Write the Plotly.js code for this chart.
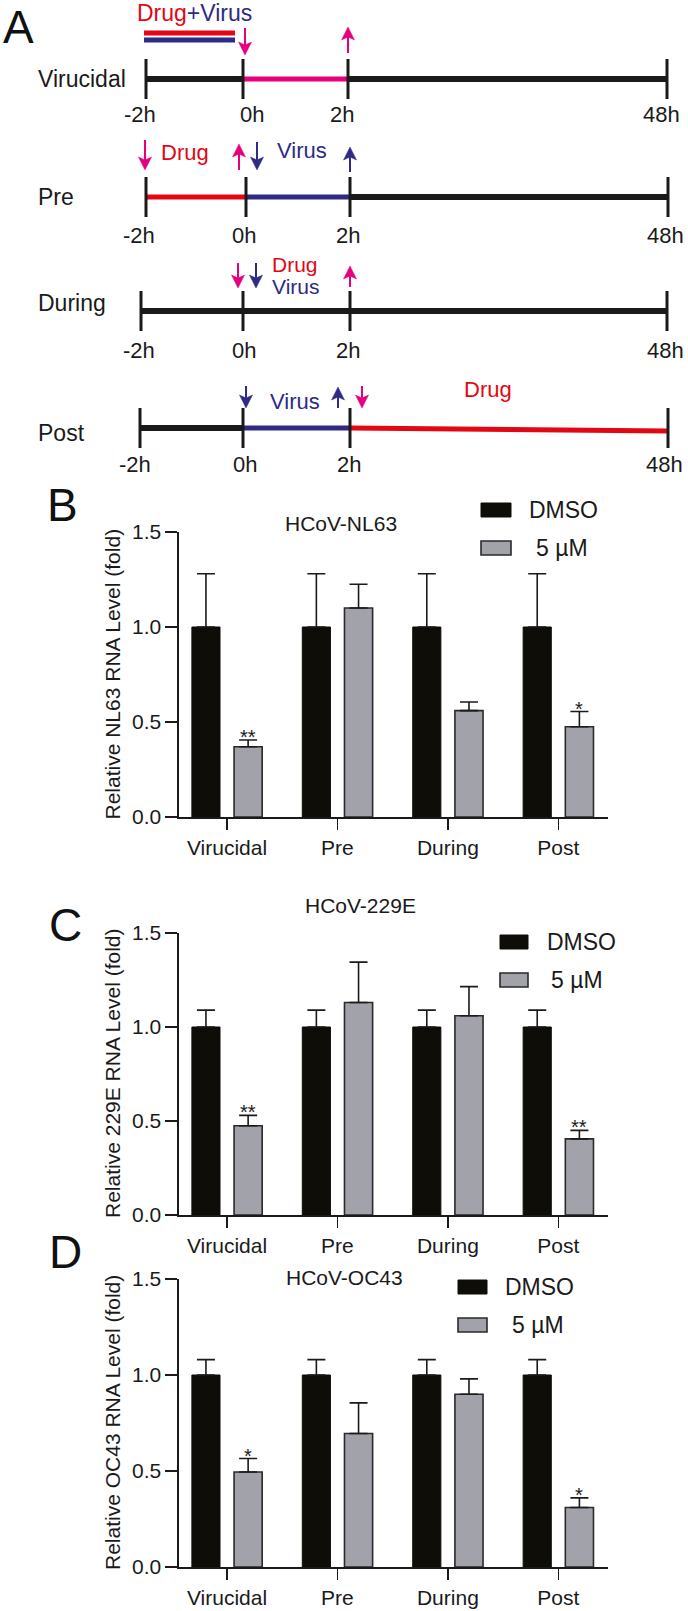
<!DOCTYPE html>
<html>
<head>
<meta charset="utf-8">
<script src="https://cdn.plot.ly/plotly-3.0.1.min.js"></script>
<style>
html,body{margin:0;padding:0;background:#fff;}
#chart{width:688px;height:1611px;}
</style>
</head>
<body>
<div id="chart"></div>
<script>
// ---------------- DATA ----------------
const categories = ['Virucidal', 'Pre', 'During', 'Post'];
const seriesNames = ['DMSO', '5 µM'];

// Panel B: HCoV-NL63
const nl63Dmso = [1.0, 1.0, 1.0, 1.0];
const nl63DmsoErr = [0.28, 0.28, 0.28, 0.28];
const nl63Drug = [0.37, 1.10, 0.56, 0.475];
const nl63DrugErr = [0.035, 0.125, 0.045, 0.08];
const nl63Sig = ['**', '', '', '*'];

// Panel C: HCoV-229E
const e229Dmso = [1.0, 1.0, 1.0, 1.0];
const e229DmsoErr = [0.09, 0.09, 0.09, 0.09];
const e229Drug = [0.475, 1.13, 1.06, 0.405];
const e229DrugErr = [0.055, 0.215, 0.155, 0.045];
const e229Sig = ['**', '', '', '**'];

// Panel D: HCoV-OC43
const oc43Dmso = [1.0, 1.0, 1.0, 1.0];
const oc43DmsoErr = [0.08, 0.08, 0.08, 0.08];
const oc43Drug = [0.495, 0.695, 0.90, 0.31];
const oc43DrugErr = [0.07, 0.16, 0.08, 0.05];
const oc43Sig = ['*', '', '', '*'];

const yTickVals = [0, 0.5, 1.0, 1.5];
const yTickText = ['0.0', '0.5', '1.0', '1.5'];
const panelTitles = ['HCoV-NL63', 'HCoV-229E', 'HCoV-OC43'];
const yTitles = ['Relative NL63 RNA Level (fold)', 'Relative 229E RNA Level (fold)', 'Relative OC43 RNA Level (fold)'];
const panelLetters = ['A', 'B', 'C', 'D'];

// Panel A: treatment timelines
const timeRows = ['Virucidal', 'Pre', 'During', 'Post'];
const timeLabels = ['-2h', '0h', '2h', '48h'];

// ---------------- STYLE / LAYOUT ----------------
const W = 688, H = 1611;
const FONT = '"Liberation Sans", Arial, Helvetica, sans-serif';
const RED = '#e30613', BLUE = '#2e2a86', PINK = '#e5007d', BLK = '#1a1a1a';
const BAR_BLACK = '#0f0d08', BAR_GRAY = '#a2a2aa';
const px = x => x / W;
const py = y => 1 - y / H;

const shapes = [];
const annotations = [];

function line(x0, y0, x1, y1, color, w) {
  shapes.push({type: 'line', xref: 'paper', yref: 'paper', x0: px(x0), y0: py(y0), x1: px(x1), y1: py(y1),
    line: {color: color, width: w}, layer: 'above'});
}
function rect(x0, y0, x1, y1, fill, lc, lw) {
  shapes.push({type: 'rect', xref: 'paper', yref: 'paper', x0: px(x0), y0: py(y0), x1: px(x1), y1: py(y1),
    fillcolor: fill, line: {color: lc, width: lw}, layer: 'above'});
}
function arrow(x, yTail, yTip, color) {
  const dir = yTip > yTail ? 1 : -1;
  const base = yTip - dir * 13;
  const notch = yTip - dir * 10;
  line(x, yTail, x, notch, color, 2);
  shapes.push({type: 'path', xref: 'paper', yref: 'paper',
    path: `M ${px(x)},${py(yTip)} L ${px(x - 6.5)},${py(base)} L ${px(x)},${py(notch)} L ${px(x + 6.5)},${py(base)} Z`,
    fillcolor: color, line: {color: color, width: 0.5}, layer: 'above'});
}
function text(x, y, t, size, color, xanchor, extra) {
  annotations.push(Object.assign({xref: 'paper', yref: 'paper', x: px(x), y: py(y), text: t, showarrow: false,
    xanchor: xanchor || 'center', yanchor: 'middle', borderpad: 0,
    font: {family: FONT, size: size, color: color || BLK}}, extra || {}));
}

// Timeline geometry (schematic pixel positions)
const rowGeom = [
  {y: 79, ticks: [146, 243, 348, 667], labY: 115, labX: [140, 252, 342, 661], nameY: 79,
   seg: [BLK, PINK, BLK], segW: [6, 5, 6]},
  {y: 197, ticks: [146, 246, 350, 668], labY: 235, labX: [139, 244, 348, 665], nameY: 197,
   seg: [RED, BLUE, BLK], segW: [5, 5, 6]},
  {y: 311, ticks: [141, 243, 350, 667], labY: 350, labX: [139, 244, 348, 665], nameY: 303,
   seg: [BLK, BLK, BLK], segW: [6, 6, 6]},
  {y: 428, ticks: [140, 243, 350, 668], labY: 465, labX: [135, 245, 349, 664], nameY: 433,
   seg: [BLK, BLUE, RED], segW: [6, 5, 5], lastDy: 3}
];
const arrowsGeom = [
  [[245, 28, 55, PINK], [348, 53, 27, PINK]],
  [[145, 140, 170, PINK], [239, 170, 144, PINK], [257, 142, 170, BLUE], [350, 172, 147, BLUE]],
  [[238, 263, 288, PINK], [256, 263, 288, BLUE], [350, 287, 266, PINK]],
  [[246, 386, 408, BLUE], [338, 408, 387, BLUE], [362, 386, 408, PINK]]
];

timeRows.forEach((name, r) => {
  const g = rowGeom[r];
  text(37, g.nameY, name, 23, BLK, 'left');
  for (let k = 0; k < 3; k++) {
    const yEnd = (k === 2 && g.lastDy) ? g.y + g.lastDy : g.y;
    line(g.ticks[k], g.y, g.ticks[k + 1], yEnd, g.seg[k], g.segW[k]);
  }
  g.ticks.forEach((tx, k) => {
    line(tx, g.y - 20, tx, g.y + 20, BLK, 3);
    text(g.labX[k], g.labY, timeLabels[k], 22, BLK);
  });
  arrowsGeom[r].forEach(a => arrow(a[0], a[1], a[2], a[3]));
});

// Row-specific treatment labels
rect(144, 30.5, 235, 35.5, RED, RED, 0);
rect(144, 37.5, 235, 42.5, BLUE, BLUE, 0);
text(194, 13, `<span style="color:${RED}">Drug</span><span style="color:${BLUE}">+Virus</span>`, 23, BLK);
text(185, 152, 'Drug', 22, RED);
text(302, 150, 'Virus', 22, BLUE);
text(295, 264, 'Drug', 21, RED);
text(295, 287, 'Virus', 21, BLUE);
text(295, 402, 'Virus', 22, BLUE);
text(488, 390, 'Drug', 22, RED);

// Panel letters
const letterPos = [[2, 27], [46, 505], [48, 925], [48, 1252]];
panelLetters.forEach((L, i) => text(letterPos[i][0], letterPos[i][1], L, 46, '#111', 'left'));

// ---------------- BAR CHARTS ----------------
const chartGeom = [
  {top: 532, bottom: 817, titleX: 341, titleY: 523, boxX: 481, boxW: 30, boxY: [510, 548], txtX: [528, 535]},
  {top: 933, bottom: 1215, titleX: 360, titleY: 905, boxX: 500, boxW: 28, boxY: [942, 980], txtX: [546, 550]},
  {top: 1279, bottom: 1567, titleX: 344, titleY: 1277, boxX: 458, boxW: 29, boxY: [1287, 1325], txtX: [504, 511]}
];
const chartData = [
  {dmso: nl63Dmso, dmsoErr: nl63DmsoErr, drug: nl63Drug, drugErr: nl63DrugErr, sig: nl63Sig},
  {dmso: e229Dmso, dmsoErr: e229DmsoErr, drug: e229Drug, drugErr: e229DrugErr, sig: e229Sig},
  {dmso: oc43Dmso, dmsoErr: oc43DmsoErr, drug: oc43Drug, drugErr: oc43DrugErr, sig: oc43Sig}
];
const X0 = 179, X1 = 608;
const traces = [];
const layout = {
  width: W, height: H,
  margin: {l: 0, r: 0, t: 0, b: 0, pad: 0},
  paper_bgcolor: '#ffffff', plot_bgcolor: 'rgba(0,0,0,0)',
  showlegend: false,
  barmode: 'group', bargap: 0.236, bargroupgap: 0.333,
  font: {family: FONT, color: BLK}
};

chartData.forEach((d, i) => {
  const s = i === 0 ? '' : String(i + 1);
  const g = chartGeom[i];
  const zeros = categories.map(() => 0);
  traces.push({
    type: 'bar', name: seriesNames[0], x: categories, y: d.dmso, xaxis: 'x' + s, yaxis: 'y' + s,
    marker: {color: BAR_BLACK, line: {color: BAR_BLACK, width: 1}},
    error_y: {type: 'data', symmetric: false, array: d.dmsoErr, arrayminus: zeros, color: BLK, thickness: 1.6, width: 9},
    hoverinfo: 'skip'
  });
  traces.push({
    type: 'bar', name: seriesNames[1], x: categories, y: d.drug, xaxis: 'x' + s, yaxis: 'y' + s,
    marker: {color: BAR_GRAY, line: {color: '#2a2a2a', width: 1.6}},
    error_y: {type: 'data', symmetric: false, array: d.drugErr, arrayminus: zeros, color: BLK, thickness: 1.6, width: 9},
    hoverinfo: 'skip'
  });
  layout['xaxis' + s] = {
    domain: [px(X0), px(X1)], anchor: 'y' + s, type: 'category', range: [-0.435, 3.45],
    showline: true, linecolor: BLK, linewidth: 1.6, ticks: 'outside', ticklen: 11, tickwidth: 1.6, tickcolor: BLK,
    tickfont: {family: FONT, size: 21, color: BLK}, showgrid: false, zeroline: false, fixedrange: true
  };
  layout['yaxis' + s] = {
    domain: [py(g.bottom), py(g.top)], anchor: 'x' + s, range: [0, 1.5],
    tickvals: yTickVals, ticktext: yTickText,
    showline: true, linecolor: BLK, linewidth: 1.6, ticks: 'outside', ticklen: 12, tickwidth: 1.6, tickcolor: BLK,
    tickfont: {family: FONT, size: 21, color: BLK}, showgrid: false, zeroline: false, fixedrange: true
  };
  // title, y title
  text(g.titleX, g.titleY, panelTitles[i], 21, BLK);
  text(112, (g.top + g.bottom) / 2, yTitles[i], 21, BLK, 'center', {textangle: -90});
  // legend
  rect(g.boxX, g.boxY[0] - 7, g.boxX + g.boxW, g.boxY[0] + 7, BAR_BLACK, BAR_BLACK, 1);
  rect(g.boxX, g.boxY[1] - 7, g.boxX + g.boxW, g.boxY[1] + 7, BAR_GRAY, '#2a2a2a', 1.6);
  text(g.txtX[0], g.boxY[0], seriesNames[0], 23, BLK, 'left');
  text(g.txtX[1], g.boxY[1], seriesNames[1], 23, BLK, 'left');
  // significance
  d.sig.forEach((st, j) => {
    if (!st) return;
    annotations.push({xref: 'x' + s, yref: 'y' + s, x: categories[j], y: d.drug[j] + d.drugErr[j],
      text: st, showarrow: false, xanchor: 'center', yanchor: 'middle', xshift: 21, yshift: 3,
      font: {family: FONT, size: 20, color: BLK}});
  });
});

layout.shapes = shapes;
layout.annotations = annotations;

Plotly.newPlot('chart', traces, layout, {staticPlot: true, displayModeBar: false});
</script>
</body>
</html>
